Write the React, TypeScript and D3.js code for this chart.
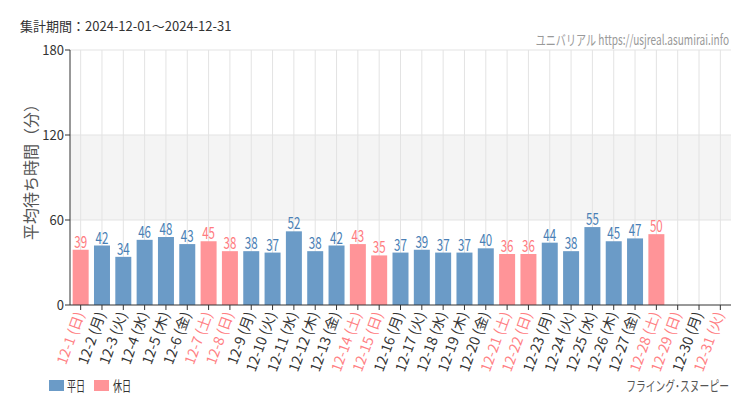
import React from "react";
import * as d3 from "d3";

const days = Array.from({ length: 31 }, (_, i) => i + 1);
const categories = [
  "12-1 (日)", "12-2 (月)", "12-3 (火)", "12-4 (水)", "12-5 (木)", "12-6 (金)", "12-7 (土)",
  "12-8 (日)", "12-9 (月)", "12-10 (火)", "12-11 (水)", "12-12 (木)", "12-13 (金)", "12-14 (土)",
  "12-15 (日)", "12-16 (月)", "12-17 (火)", "12-18 (水)", "12-19 (木)", "12-20 (金)", "12-21 (土)",
  "12-22 (日)", "12-23 (月)", "12-24 (火)", "12-25 (水)", "12-26 (木)", "12-27 (金)", "12-28 (土)",
  "12-29 (日)", "12-30 (月)", "12-31 (火)",
];
const values: (number | null)[] = [
  39, 42, 34, 46, 48, 43, 45, 38, 38, 37, 52, 38, 42, 43, 35, 37, 39, 37, 37, 40, 36, 36, 44, 38,
  55, 45, 47, 50, null, null, null,
];
const holidays = [1, 7, 8, 14, 15, 21, 22, 28, 29, 31];
const yTicks = [0, 60, 120, 180];

const W = 750, H = 410;
const left = 70, right = 731, top = 50, bottom = 305;

const BLUE = "#6b9bc7", PINK = "#ff9498";
const BLUE_T = "#4a7fb5", PINK_T = "#ff7b80";
const jp = "'Noto Sans CJK JP', 'Noto Sans', sans-serif";

function Narrow({ x, y, sx, anchor, size, fill, children }: any) {
  return (
    <text transform={`translate(${x},${y}) scale(${sx},1)`} textAnchor={anchor || "start"} fontFamily={jp} fontSize={size} fill={fill}>
      {children}
    </text>
  );
}

export default function App() {
  const x = d3.scaleBand<string>().domain(categories).range([left, right]).paddingInner(0.25).paddingOuter(0.125);
  const y = d3.scaleLinear().domain([0, 180]).range([bottom, top]);
  const isHol = (i: number) => holidays.includes(days[i]);
  const cx = (c: string) => (x(c) as number) + x.bandwidth() / 2;

  return (
    <svg width={W} height={H} style={{ display: "block", position: "absolute", left: 0, top: 0, background: "#fff" }}>
      <rect x={left} y={y(120)} width={right - left} height={y(60) - y(120)} fill="#f4f4f4" />
      {yTicks.filter((t) => t > 0).map((t) => (
        <line key={t} x1={left} x2={right} y1={y(t)} y2={y(t)} stroke="#e3e3e3" />
      ))}
      {categories.map((c) => (
        <line key={c} x1={cx(c)} x2={cx(c)} y1={top} y2={bottom} stroke="#e3e3e3" />
      ))}
      {categories.map((c, i) => {
        const v = values[i];
        if (v == null) return null;
        const h = isHol(i);
        return (
          <g key={c}>
            <rect x={x(c)} y={y(v)} width={x.bandwidth()} height={bottom - y(v)} fill={h ? PINK : BLUE} />
            <Narrow x={cx(c)} y={y(v) - 2} sx={0.68} anchor="middle" size={17} fill={h ? PINK_T : BLUE_T}>
              {v}
            </Narrow>
          </g>
        );
      })}
      {/* y axis */}
      <line x1={left} x2={left} y1={top} y2={bottom} stroke="#333" />
      {yTicks.map((t) => (
        <g key={t}>
          <line x1={left - 5} x2={left} y1={y(t)} y2={y(t)} stroke="#333" />
          <text x={left - 6} y={y(t) + 4.5} textAnchor="end" fontFamily={jp} fontSize={13} fill="#333">
            {t}
          </text>
        </g>
      ))}
      {/* x axis */}
      <line x1={left} x2={right} y1={bottom} y2={bottom} stroke="#333" />
      {categories.map((c, i) => (
        <g key={c}>
          <line x1={cx(c)} x2={cx(c)} y1={bottom} y2={bottom + 5} stroke="#333" />
          <text
            transform={`translate(${cx(c) + 4},${bottom + 9}) rotate(-70)`}
            textAnchor="end"
            fontFamily={jp}
            fontSize={14}
            fill={isHol(i) ? "#ff7f84" : "#333"}
          >
            {c}
          </text>
        </g>
      ))}
      <text transform={`translate(37,168) rotate(-90)`} textAnchor="middle" fontFamily={jp} fontSize={16} fill="#555">
        平均待ち時間（分）
      </text>
      <text x={20} y={31} fontFamily={jp} fontSize={13} fill="#333">集計期間：2024-12-01～2024-12-31</text>
      <Narrow x={729} y={45} sx={0.72} anchor="end" size={14} fill="#999">
        ユニバリアル  https://usjreal.asumirai.info
      </Narrow>
      <rect x={49} y={380} width={15} height={11} fill={BLUE} />
      <Narrow x={67} y={391} sx={0.65} size={14} fill="#333">平日</Narrow>
      <rect x={94} y={380} width={15} height={11} fill={PINK} />
      <Narrow x={113} y={391} sx={0.65} size={14} fill="#333">休日</Narrow>
      <Narrow x={729} y={391} sx={0.7} anchor="end" size={14} fill="#555">フライング･スヌーピー</Narrow>
    </svg>
  );
}
